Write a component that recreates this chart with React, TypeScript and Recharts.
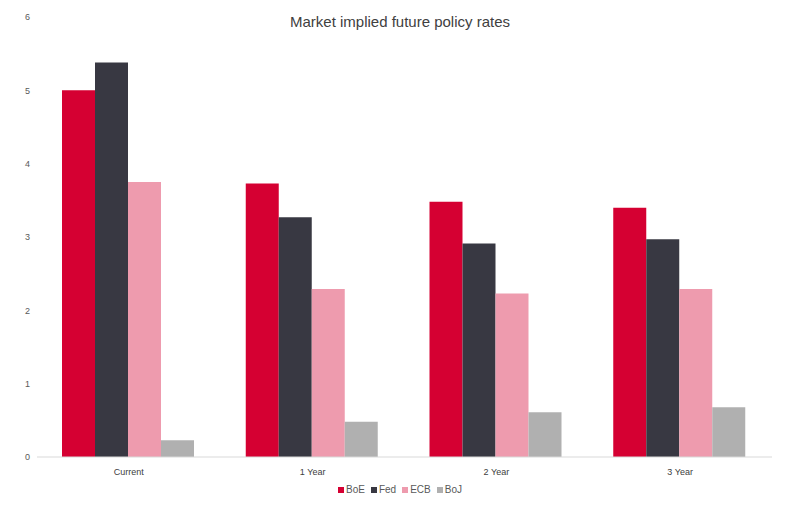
import { BarChart, Bar, XAxis, YAxis, Legend } from 'recharts';

const horizons = ['Current', '1 Year', '2 Year', '3 Year'];
const boe = [5.0, 3.73, 3.48, 3.4];
const fed = [5.38, 3.27, 2.91, 2.97];
const ecb = [3.75, 2.29, 2.23, 2.29];
const boj = [0.23, 0.48, 0.61, 0.68];
const yTicks = [0, 1, 2, 3, 4, 5, 6];

const seriesNames = ['BoE', 'Fed', 'ECB', 'BoJ'];
const seriesColors = ['#D50032', '#383842', '#EE9BAE', '#B0B0B0'];

const data = horizons.map((h, i) => ({
  horizon: h,
  BoE: boe[i],
  Fed: fed[i],
  ECB: ecb[i],
  BoJ: boj[i],
}));

const font = '"Liberation Sans", Arial, sans-serif';

// keep legend in series order (recharts sorts it otherwise)
const LegendRow = () => (
  <div style={{ display: 'flex', justifyContent: 'center', gap: 6, fontSize: 10, color: '#595959', fontFamily: font }}>
    {seriesNames.map((name, i) => (
      <span key={name} style={{ display: 'flex', alignItems: 'center' }}>
        <span style={{ width: 6, height: 6, background: seriesColors[i], marginRight: 2, display: 'inline-block' }} />
        {name}
      </span>
    ))}
  </div>
);

const App = () => {
  return (
    <div style={{ position: 'absolute', left: 0, top: 0, width: 800, height: 520, background: 'white', fontFamily: font }}>
      {/* title sits over the top of the plot area */}
      <div style={{ position: 'absolute', top: 13, left: 0, width: 800, textAlign: 'center', fontSize: 15, color: '#404040' }}>
        Market implied future policy rates
      </div>
      <BarChart
        width={800}
        height={520}
        data={data}
        margin={{ top: 17, right: 28, left: 0, bottom: 6 }}
        barGap={0}
        barCategoryGap={25}
      >
        <XAxis
          dataKey="horizon"
          height={20}
          tickLine={false}
          axisLine={{ stroke: '#d9d9d9' }}
          tick={{ fontSize: 9, fill: '#404040', fontFamily: font }}
          tickMargin={6}
        />
        <YAxis
          width={37}
          domain={[0, 6]}
          ticks={yTicks}
          axisLine={false}
          tickLine={false}
          tickSize={0}
          tickMargin={7}
          tick={{ fontSize: 9, fill: '#595959', fontFamily: font }}
        />
        <Legend height={30} content={<LegendRow />} wrapperStyle={{ paddingTop: 7, left: 0, width: 800 }} />
        <Bar dataKey="BoE" fill={seriesColors[0]} isAnimationActive={false} />
        <Bar dataKey="Fed" fill={seriesColors[1]} isAnimationActive={false} />
        <Bar dataKey="ECB" fill={seriesColors[2]} isAnimationActive={false} />
        <Bar dataKey="BoJ" fill={seriesColors[3]} isAnimationActive={false} />
      </BarChart>
    </div>
  );
};

export default App;
